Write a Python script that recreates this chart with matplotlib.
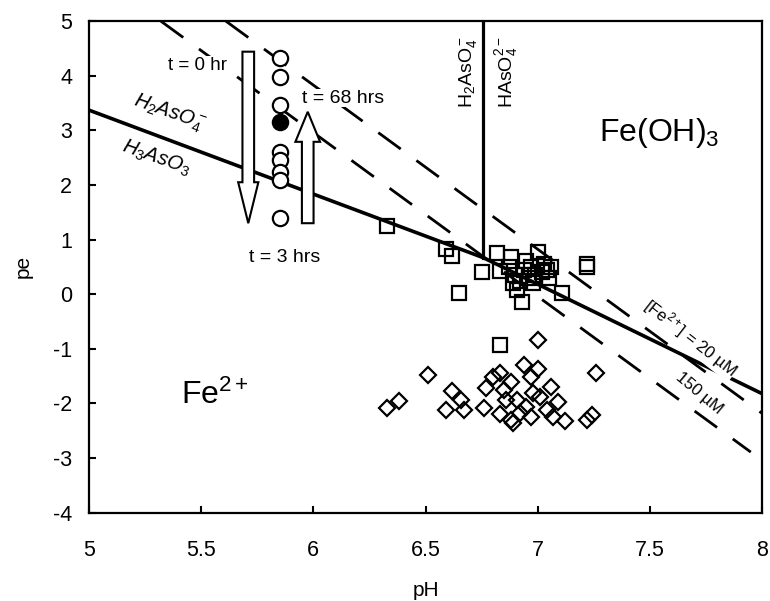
import matplotlib
matplotlib.use("Agg")
import matplotlib.pyplot as plt
import matplotlib.patches as mpatches

#----------------------------------------------------------------------------------------------
## FONTS ##
#----------------------------------------------------------------------------------------------

plt.rcParams['font.family'] = ['Liberation Sans', 'DejaVu Sans']
plt.rcParams['mathtext.fontset'] = 'custom'
plt.rcParams['mathtext.rm'] = 'Liberation Sans'
plt.rcParams['mathtext.it'] = 'Liberation Sans:italic'
plt.rcParams['mathtext.bf'] = 'Liberation Sans:bold'
plt.rcParams['axes.unicode_minus'] = False

#----------------------------------------------------------------------------------------------
## DATA ##
#----------------------------------------------------------------------------------------------

# Time series at one pH (circles)
circle_ph = 5.85
circle_pe_open = [4.33, 3.98, 3.46, 2.60, 2.46, 2.24, 2.09, 1.39]
circle_pe_filled = [3.16]

# Squares
square_ph = [6.33, 6.59, 6.62, 6.65, 6.75, 6.82, 6.83, 6.88, 6.90, 6.91, 6.93, 6.94, 6.96,
             6.97, 7.00, 7.02, 7.04, 7.05, 7.06, 7.11, 7.22, 7.22, 6.83, 6.87, 6.92, 6.98,
             7.03, 6.89, 6.95, 6.99]
square_pe = [1.25, 0.82, 0.70, 0.02, 0.40, 0.76, 0.42, 0.68, 0.35, 0.08, -0.15, 0.45, 0.30,
             0.50, 0.78, 0.40, 0.45, 0.30, 0.50, 0.02, 0.50, 0.55, -0.93, 0.50, 0.25, 0.20,
             0.55, 0.20, 0.60, 0.35]

# Diamonds
diamond_ph = [6.33, 6.38, 6.51, 6.59, 6.62, 6.66, 6.67, 6.76, 6.77, 6.83, 6.83, 6.88, 6.89,
              6.85, 6.88, 6.94, 7.00, 7.00, 6.91, 6.97, 6.98, 6.95, 6.97, 7.01, 7.06, 7.04,
              7.09, 7.07, 7.12, 7.26, 7.22, 7.24, 6.92, 6.86, 6.80]
diamond_pe = [-2.09, -1.95, -1.47, -2.12, -1.77, -1.94, -2.12, -2.08, -1.71, -1.45, -2.20,
              -2.30, -2.36, -1.75, -1.60, -1.30, -1.36, -0.84, -1.94, -1.51, -1.81, -2.06,
              -2.24, -1.88, -1.69, -2.12, -1.97, -2.24, -2.33, -1.45, -2.30, -2.21, -2.18,
              -1.94, -1.51]

# As(V) / As(III) boundary
arsenic_ph = [5.0, 6.757, 8.0]
arsenic_pe = [3.37, 0.67, -1.82]

# H2AsO4- / HAsO4 2- boundary
pka_ph = [6.757, 6.757]
pka_pe = [5.0, 0.67]

# Fe(OH)3 / Fe2+ boundaries
fe20_ph = [5.61, 8.0]
fe20_pe = [5.0, -2.18]
fe150_ph = [5.32, 7.95]
fe150_pe = [5.0, -2.89]

# Arrows (pH, start pe, end pe)
arrow_down = (5.71, 4.44, 1.30)
arrow_up = (5.975, 1.30, 3.34)

x_ticks = [5, 5.5, 6, 6.5, 7, 7.5, 8]
x_tick_labels = ['5', '5.5', '6', '6.5', '7', '7.5', '8']
y_ticks = [-4, -3, -2, -1, 0, 1, 2, 3, 4, 5]

#----------------------------------------------------------------------------------------------
## PLOT ##
#----------------------------------------------------------------------------------------------

fig = plt.figure(figsize=(7.7, 6.01), dpi=100)
ax = fig.add_axes([0.1156, 0.1469, 0.874, 0.818])

# Boundaries
ax.plot(fe20_ph, fe20_pe, color='black', lw=2, linestyle=(0, (10, 7)), zorder=2)
ax.plot(fe150_ph, fe150_pe, color='black', lw=2, linestyle=(0, (10, 7)), zorder=2)
ax.plot(arsenic_ph, arsenic_pe, color='black', lw=2.6, zorder=2)
ax.plot(pka_ph, pka_pe, color='black', lw=2.3, zorder=2)

# Points
ax.plot(square_ph, square_pe, 's', ms=10, mfc='none', mec='black', mew=1.6, zorder=3)
ax.plot(diamond_ph, diamond_pe, 'D', ms=8.5, mfc='none', mec='black', mew=1.6, zorder=3)
ax.plot([circle_ph] * len(circle_pe_open), circle_pe_open, 'o', ms=11, mfc='white',
        mec='black', mew=1.6, zorder=4)
ax.plot([circle_ph] * len(circle_pe_filled), circle_pe_filled, 'o', ms=11, mfc='black',
        mec='black', mew=1.6, zorder=5)

# Arrows
x0, y0, y1 = arrow_down
ax.add_patch(mpatches.FancyArrow(x0, y0, 0, y1 - y0, width=0.052, head_width=0.09,
                                 head_length=0.75, length_includes_head=True,
                                 fc='white', ec='black', lw=1.5, zorder=6))
x0, y0, y1 = arrow_up
ax.add_patch(mpatches.FancyArrow(x0, y0, 0, y1 - y0, width=0.052, head_width=0.11,
                                 head_length=0.55, length_includes_head=True,
                                 fc='white', ec='black', lw=1.5, zorder=6))

# Texts
ax.text(5.615, 4.19, 't = 0 hr', fontsize=13.5, ha='right', va='center', zorder=7,
        bbox=dict(fc='white', ec='none', pad=0.5))
ax.text(5.95, 3.59, 't = 68 hrs', fontsize=14, ha='left', va='center', zorder=7,
        bbox=dict(fc='white', ec='none', pad=0.5))
ax.text(5.87, 0.68, 't = 3 hrs', fontsize=14, ha='center', va='center')
ax.text(5.36, 3.31, r'$H_2AsO_4^-$', fontsize=14.5, rotation=-19.5, ha='center', va='center',
        rotation_mode='anchor')
ax.text(5.30, 2.49, r'$H_3AsO_3$', fontsize=14.5, rotation=-19.5, ha='center', va='center',
        rotation_mode='anchor')
ax.text(6.69, 4.07, r'H$_2$AsO$_4^-$', fontsize=14, rotation=90, ha='center', va='center')
ax.text(6.86, 4.07, r'HAsO$_4^{2-}$', fontsize=14, rotation=90, ha='center', va='center')
ax.text(7.54, 2.95, r'Fe(OH)$_3$', fontsize=23, ha='center', va='center')
ax.text(5.56, -1.85, r'Fe$^{2+}$', fontsize=23, ha='center', va='center')
ax.text(7.68, -0.80, r'[Fe$^{2+}$] = 20 µM', fontsize=12, rotation=-38, ha='center',
        va='center', rotation_mode='anchor', zorder=7,
        bbox=dict(fc='white', ec='none', pad=0.5))
ax.text(7.72, -1.81, '150 µM', fontsize=12, rotation=-40, ha='center', va='center',
        rotation_mode='anchor', zorder=7, bbox=dict(fc='white', ec='none', pad=0.5))

# Axes
ax.set_xlim(5, 8)
ax.set_ylim(-4, 5)
ax.set_xticks(x_ticks)
ax.set_xticklabels(x_tick_labels)
ax.set_yticks(y_ticks)
ax.tick_params(direction='in', length=5, width=1.5, labelsize=15.5)
ax.tick_params(axis='x', pad=20)
ax.tick_params(axis='y', pad=12)
for spine in ax.spines.values():
    spine.set_linewidth(1.6)
ax.set_xlabel('pH', fontsize=15)
ax.set_ylabel('pe', fontsize=15)
ax.xaxis.set_label_coords(0.5, -0.138)
ax.yaxis.set_label_coords(-0.083, 0.5)

plt.savefig('out.png', dpi=100)
